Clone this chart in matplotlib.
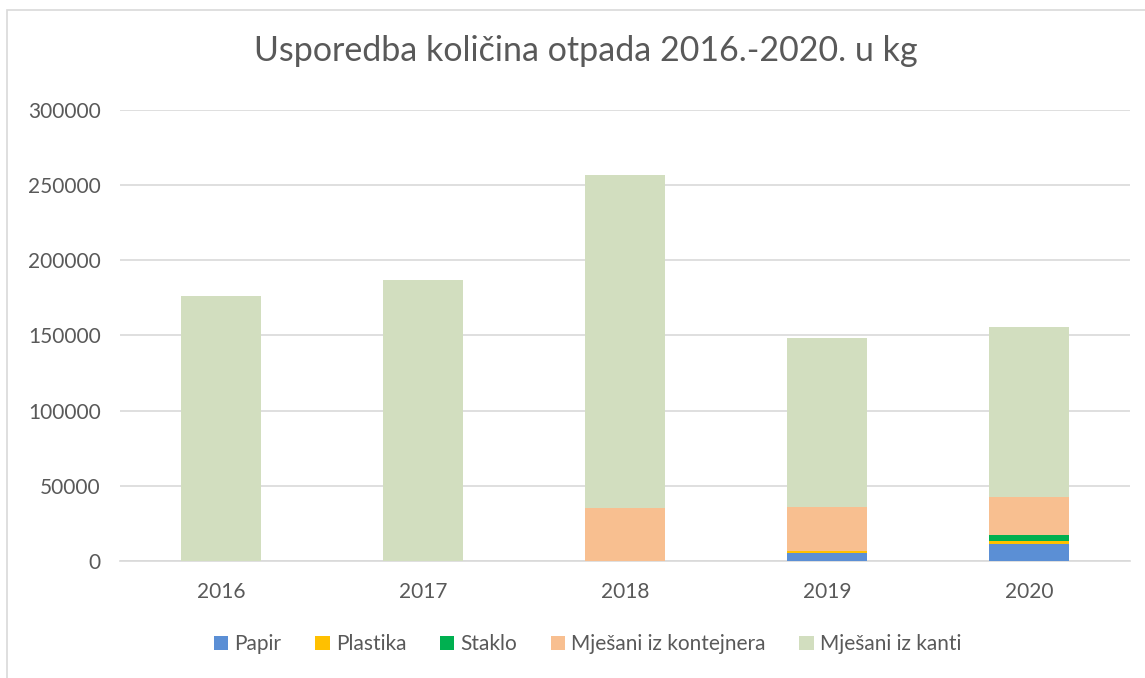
import matplotlib.pyplot as plt
import numpy as np
from matplotlib.patches import Rectangle

plt.rcParams['font.family'] = ['Lato', 'DejaVu Sans']

years = ['2016', '2017', '2018', '2019', '2020']
series = ['Papir', 'Plastika', 'Staklo', 'Mješani iz kontejnera', 'Mješani iz kanti']
papir = [0, 0, 0, 5100, 11600]
plastika = [0, 0, 0, 1700, 1500]
staklo = [0, 0, 0, 0, 4200]
mjesani_kont = [0, 0, 35400, 29100, 25300]
mjesani_kanti = [176200, 186900, 221300, 112400, 113000]
colors = ['#5B8FD5', '#FFC000', '#00B050', '#F8BF90', '#D2DEBF']

fig = plt.figure(figsize=(11.45, 6.78), dpi=100)
ax = fig.add_axes([0.1048, 0.1726, 0.882, 0.6652])

# chart border (light grey, partly cropped in the original)
fig.patches.append(Rectangle((7 / 1145, -0.05), 1.2, 1.05 - 10 / 678,
                             transform=fig.transFigure, fill=False,
                             edgecolor='#d9d9d9', lw=1.2))

x = np.arange(len(years))
bottom = np.zeros(len(years))
for name, vals, c in zip(series, [papir, plastika, staklo, mjesani_kont, mjesani_kanti], colors):
    ax.bar(x, vals, 0.396, bottom=bottom, color=c, label=name, zorder=3)
    bottom += np.array(vals)

ax.set_xlim(-0.5, len(years) - 0.5)
ax.set_ylim(0, 300000)
ax.set_yticks(np.arange(0, 300001, 50000))
ax.set_xticks(x)
ax.set_xticklabels(years)
ax.grid(axis='y', color='#d9d9d9', lw=1.2, zorder=0)
for s in ['top', 'right', 'left']:
    ax.spines[s].set_visible(False)
ax.spines['bottom'].set_color('#d9d9d9')
ax.spines['bottom'].set_linewidth(1.2)
ax.tick_params(length=0, colors='#595959', labelsize=15)
ax.tick_params(axis='y', pad=14)
ax.tick_params(axis='x', pad=15)

fig.text(0.512, 0.925, 'Usporedba količina otpada 2016.-2020. u kg',
         ha='center', va='center', fontsize=24.5, color='#595959')

leg = ax.legend(loc='center', bbox_to_anchor=(0.463, -0.185), ncol=5, frameon=False,
                fontsize=15, handlelength=0.7, handleheight=0.7, handletextpad=0.3,
                columnspacing=1.6)
for t in leg.get_texts():
    t.set_color('#595959')

fig.savefig('out.png', dpi=100)
